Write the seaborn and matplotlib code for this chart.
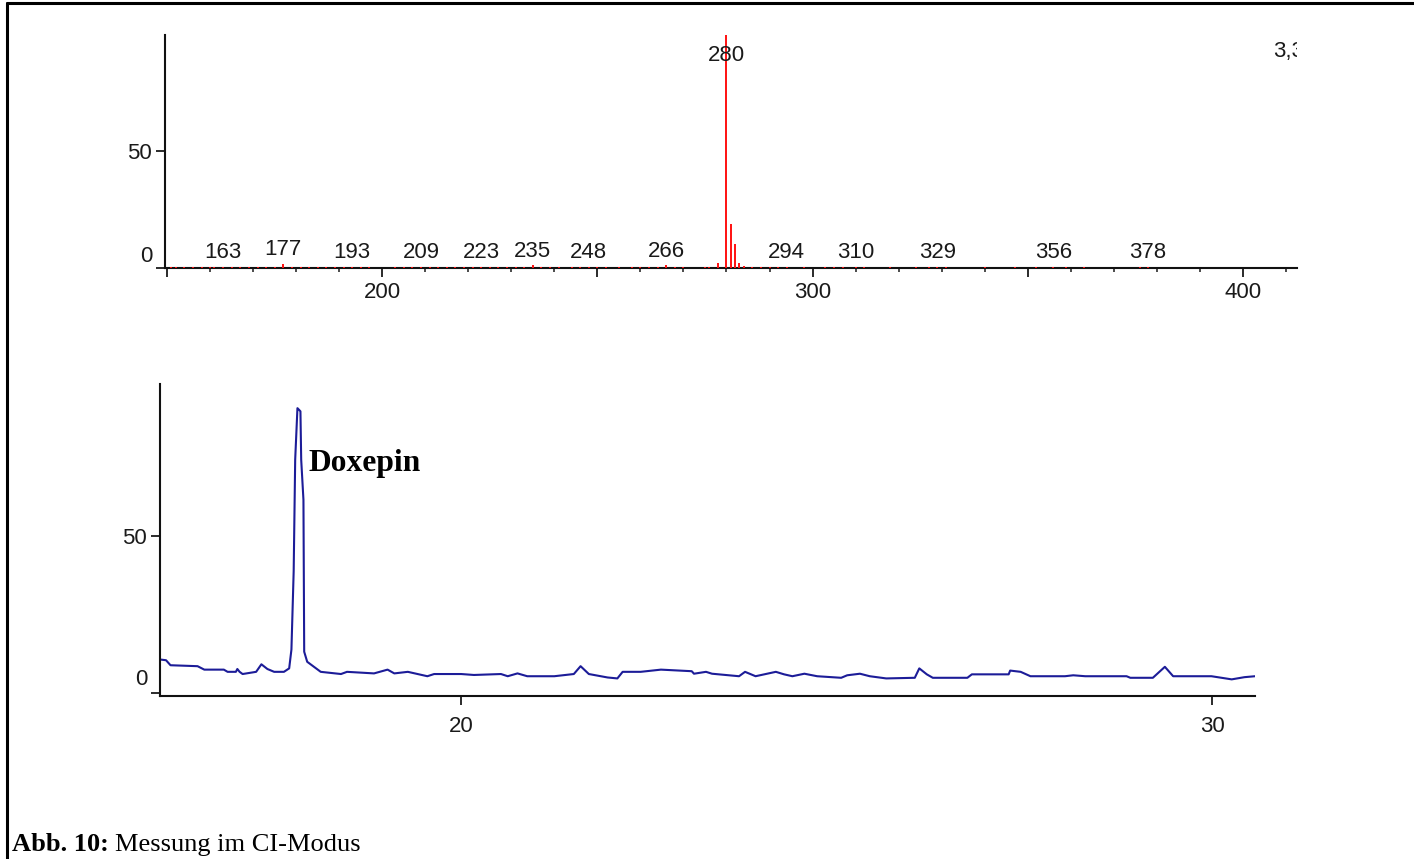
import numpy as np
import pandas as pd
import matplotlib
matplotlib.use("Agg")
import matplotlib.pyplot as plt
import matplotlib.transforms as mtransforms
from matplotlib.lines import Line2D
from matplotlib.ticker import MultipleLocator, FuncFormatter, FixedLocator
import seaborn as sns

# ---------------- data ----------------
# mass spectrum (CI), labelled peaks: m/z and relative intensity (%)
label_mz = [163, 177, 193, 209, 223, 235, 248, 266, 280, 294, 310, 329, 356, 378]
label_int = [0.6, 1.8, 0.6, 0.6, 0.6, 1.2, 0.6, 1.2, 100.0, 0.6, 0.6, 0.6, 0.6, 0.6]
# isotope / neighbour peaks around the quasi-molecular ion
cluster_mz = [278, 281, 282, 283, 284]
cluster_int = [2.2, 19.0, 10.5, 2.0, 0.8]
# small background signals along the baseline
minor_mz = [151, 152, 154, 156, 158, 160, 161, 165, 167, 169, 171, 173, 175, 179, 181,
            183, 185, 187, 189, 191, 195, 197, 203, 205, 207, 211, 213, 215, 217, 219,
            221, 225, 227, 229, 231, 233, 237, 239, 241, 244, 246, 250, 252, 255, 258,
            260, 262, 264, 268, 270, 275, 276, 286, 288, 290, 292, 298, 303, 305, 307,
            312, 318, 324, 327, 331, 340, 347, 352, 359, 363, 376]
minor_int = [0.5] * len(minor_mz)
corner_label = "3,3"

# chromatogram (retention time in min, relative intensity %)
rt = [16.00, 16.07, 16.13, 16.49, 16.58, 16.84, 16.89, 17.00, 17.02, 17.05, 17.09, 17.27,
      17.34, 17.42, 17.51, 17.64, 17.71, 17.74, 17.77, 17.79, 17.82, 17.86, 17.87, 17.90,
      17.91, 17.95, 18.04, 18.13, 18.40, 18.48, 18.84, 19.02, 19.11, 19.29, 19.55, 19.64,
      20.00, 20.17, 20.53, 20.62, 20.75, 20.88, 21.24, 21.50, 21.59, 21.70, 21.95, 22.08,
      22.15, 22.39, 22.66, 23.07, 23.10, 23.26, 23.34, 23.70, 23.78, 23.92, 24.19, 24.30,
      24.41, 24.57, 24.74, 25.06, 25.14, 25.31, 25.44, 25.66, 26.04, 26.10, 26.20, 26.28,
      26.74, 26.80, 27.29, 27.31, 27.45, 27.58, 28.04, 28.15, 28.31, 28.47, 28.86, 28.91,
      29.21, 29.37, 29.48, 29.66, 29.99, 30.26, 30.43, 30.57]
tic = [10.6, 10.4, 8.8, 8.5, 7.4, 7.4, 6.7, 6.7, 7.6, 6.7, 6.0, 6.7,
       9.1, 7.6, 6.7, 6.7, 7.8, 13.8, 38.8, 74.3, 90.7, 89.7, 74.3, 61.5,
       13.1, 9.9, 8.3, 6.7, 6.0, 6.7, 6.2, 7.4, 6.2, 6.7, 5.3, 6.0,
       6.0, 5.7, 6.0, 5.3, 6.2, 5.3, 5.3, 6.0, 8.5, 6.0, 4.9, 4.6,
       6.7, 6.7, 7.4, 6.9, 6.1, 6.7, 6.1, 5.3, 6.7, 5.3, 6.7, 5.9,
       5.3, 6.1, 5.3, 4.8, 5.6, 6.1, 5.3, 4.6, 4.8, 7.8, 5.9, 4.8,
       4.8, 5.9, 5.9, 7.1, 6.7, 5.3, 5.3, 5.6, 5.3, 5.3, 5.3, 4.8,
       4.8, 8.3, 5.3, 5.3, 5.3, 4.3, 5.0, 5.3]
peak_name = "Doxepin"
caption_bold = "Abb. 10:"
caption_text = "Messung im CI-Modus"

# ---------------- style ----------------
sns.set_theme(style="ticks")
plt.rcParams["font.family"] = ["Liberation Sans", "DejaVu Sans"]

W, H = 1414, 859
fig = plt.figure(figsize=(W / 100, H / 100), dpi=100)
fig.patch.set_facecolor("white")

def px_axes(left, top, right, bottom):
    return fig.add_axes([left / W, 1 - bottom / H, (right - left) / W, (bottom - top) / H])

TICK_COLOR = "#1a1a1a"
RED = "#ff1010"
BLUE = "#1c1c98"
FS = 16

# ---------------- spectrum ----------------
ax1 = px_axes(165, 35, 1297, 268)
ax1.set_facecolor("white")
ax1.vlines(minor_mz, 0, minor_int, color=RED, lw=1.4, zorder=3)
ax1.vlines(label_mz, 0, label_int, color=RED, lw=1.4, zorder=3)
ax1.vlines(cluster_mz, 0, cluster_int, color=RED, lw=1.4, zorder=3)
ax1.set_xlim(149.5, 412.6)
ax1.set_ylim(0, 100)

for m, v in zip(label_mz, label_int):
    ax1.annotate(str(m), xy=(m, min(v, 85.4)), xytext=(0, 14), textcoords="offset pixels",
                 ha="center", va="center", fontsize=FS, color=TICK_COLOR, zorder=4)
ax1.text(407.0, 93.0, corner_label, ha="left", va="center", fontsize=FS,
         color=TICK_COLOR, clip_on=True)

ax1.xaxis.set_major_locator(MultipleLocator(50))
ax1.xaxis.set_minor_locator(MultipleLocator(10))
ax1.xaxis.set_major_formatter(FuncFormatter(lambda v, p: f"{int(round(v))}" if round(v) % 100 == 0 else ""))
ax1.yaxis.set_major_locator(FixedLocator([0, 50]))
ax1.yaxis.set_major_formatter(FuncFormatter(lambda v, p: f"{int(round(v))}"))

# ---------------- chromatogram ----------------
ax2 = px_axes(160, 384, 1255, 696)
ax2.set_facecolor("white")
chrom = pd.DataFrame({"rt": rt, "tic": tic})
sns.lineplot(data=chrom, x="rt", y="tic", ax=ax2, color=BLUE, lw=1.5, sort=True,
             estimator=None)
ax2.set_xlim(15.99, 30.57)
ax2.set_ylim(-1, 98.4)
ax2.set_xlabel("")
ax2.set_ylabel("")
ax2.xaxis.set_major_locator(FixedLocator([20, 30]))
ax2.yaxis.set_major_locator(FixedLocator([0, 50]))
ax2.xaxis.set_major_formatter(FuncFormatter(lambda v, p: f"{int(round(v))}"))
ax2.yaxis.set_major_formatter(FuncFormatter(lambda v, p: f"{int(round(v))}"))
ax2.text(17.97, 70.7, peak_name, ha="left", va="baseline", fontsize=22.7,
         fontweight="bold", family=["Liberation Serif", "DejaVu Serif"], color="black")

for ax in (ax1, ax2):
    ax.grid(False)
    for s in ("top", "right"):
        ax.spines[s].set_visible(False)
    for s in ("left", "bottom"):
        ax.spines[s].set_color("#111111")
        ax.spines[s].set_linewidth(1.5)
    ax.tick_params(axis="both", which="major", direction="out", length=6.2, width=1.3,
                   color=TICK_COLOR, labelcolor=TICK_COLOR, labelsize=FS, pad=3)
    ax.tick_params(axis="x", which="minor", direction="out", length=3.2, width=1.1,
                   color=TICK_COLOR)
    ax.tick_params(axis="y", which="minor", length=0)
ax1.tick_params(axis="x", which="major", pad=4)
ax2.tick_params(axis="x", which="major", pad=8)

# shift the "0" y labels upward, as in the original software
for ax, dy in ((ax1, 14), (ax2, 16)):
    t0 = ax.yaxis.get_major_ticks()[0]
    t0.label1.set_transform(t0.label1.get_transform() +
                            mtransforms.ScaledTranslation(0, dy / 100, fig.dpi_scale_trans))

# ---------------- frame and caption ----------------
fig.add_artist(Line2D([7 / W, 1], [1 - 3 / H, 1 - 3 / H], color="black", lw=2.2,
                      transform=fig.transFigure))
fig.add_artist(Line2D([7 / W, 7 / W], [0, 1 - 3 / H], color="black", lw=2.2,
                      transform=fig.transFigure))

serif = ["Liberation Serif", "DejaVu Serif"]
cb = fig.text(12 / W, 1 - 851 / H, caption_bold, ha="left", va="baseline", fontsize=19,
              fontweight="bold", family=serif, color="black")
renderer = fig.canvas.get_renderer()
bb = cb.get_window_extent(renderer=renderer)
fig.text((bb.x1 + 6) / W, 1 - 851 / H, caption_text, ha="left", va="baseline",
         fontsize=19, family=serif, color="black")

fig.savefig("out.png", dpi=100, facecolor="white")
